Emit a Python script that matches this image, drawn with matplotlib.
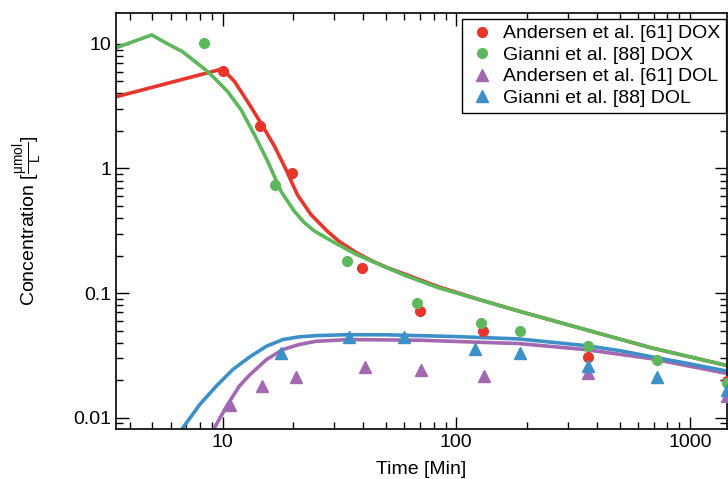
import matplotlib
matplotlib.use("Agg")
from matplotlib import pyplot as plt

plt.rcParams['font.family'] = ['Liberation Sans', 'DejaVu Sans']
plt.rcParams['mathtext.fontset'] = 'custom'
plt.rcParams['mathtext.rm'] = 'Liberation Sans'
plt.rcParams['mathtext.it'] = 'Liberation Sans'

# measured data (time in min, concentration in umol/L)
andersen_dox_t = [10, 14.5, 19.9, 39.5, 70, 130, 367, 1440]
andersen_dox_c = [6.07, 2.2, 0.92, 0.16, 0.072, 0.050, 0.0307, 0.0195]

gianni_dox_t = [8.3, 16.8, 34, 68, 128, 188, 367, 726, 1440]
gianni_dox_c = [10.2, 0.73, 0.18, 0.083, 0.057, 0.050, 0.0374, 0.029, 0.019]

andersen_dol_t = [10.8, 14.7, 20.6, 40.5, 70.6, 131.5, 367, 1440]
andersen_dol_c = [0.0127, 0.018, 0.0212, 0.0254, 0.024, 0.0215, 0.0229, 0.0148]

gianni_dol_t = [17.8, 34.8, 60, 120, 188, 367, 726, 1440]
gianni_dol_c = [0.033, 0.0445, 0.044, 0.0356, 0.033, 0.0258, 0.0211, 0.0168]

# model curves
red_model_t = [3.5, 10, 11.25, 12.8, 14.6, 16.7, 18.7, 20.9, 23.9, 28.1, 31.5,
               37.2, 43.8, 51.5, 60.7, 84.2, 133, 188, 355, 684, 1440]
red_model_c = [3.76, 6.3, 4.99, 3.44, 2.31, 1.50, 0.976, 0.615, 0.426, 0.313, 0.26,
               0.212, 0.18, 0.158, 0.141, 0.112, 0.0857, 0.071, 0.051, 0.0363, 0.0262]

green_model_t = [3.5, 4.98, 5.71, 6.73, 8.46, 9.24, 10.5, 12.0, 13.7, 15.6, 17.8, 20.3,
                 22.3, 24.7, 30, 37.2, 51.5, 60.7, 84.2, 133, 188, 355, 684, 1440]
green_model_c = [9.3, 11.8, 10.2, 8.68, 6.19, 5.31, 4.15, 2.96, 1.86, 1.14, 0.654, 0.452,
                 0.37, 0.315, 0.255, 0.205, 0.157, 0.138, 0.11, 0.0857, 0.071, 0.051,
                 0.0363, 0.0262]

purple_model_t = [9.24, 10.5, 11.8, 13.0, 15.4, 18.1, 21.3, 25.1, 34.8, 69.2, 185,
                  355, 684, 1440]
purple_model_c = [0.0083, 0.0127, 0.0179, 0.0218, 0.0292, 0.0352, 0.0386, 0.041,
                  0.0423, 0.0418, 0.0393, 0.0352, 0.0297, 0.0226]

blue_model_t = [6.77, 7.98, 9.4, 11.06, 13.0, 15.4, 18.1, 21.3, 25.1, 34.8, 50, 69.2,
                100, 185, 355, 500, 684, 1000, 1440]
blue_model_c = [0.0083, 0.0127, 0.0179, 0.0243, 0.0305, 0.0374, 0.0423, 0.0445, 0.0455,
                0.0463, 0.0462, 0.0455, 0.0447, 0.0428, 0.0379, 0.0345, 0.0308, 0.027,
                0.0236]

red = '#e8352b'
green = '#5cb85b'
purple = '#a468b3'
blue = '#3d8fc7'

fig = plt.figure(figsize=(7.28, 4.79), dpi=100)
ax = fig.add_axes([116/728, 1 - 429/479, (727 - 116)/728, (429 - 13)/479])

lw = 2.6
ax.plot(red_model_t, red_model_c, color=red, lw=lw, zorder=2)
ax.plot(green_model_t, green_model_c, color=green, lw=lw, zorder=2)
ax.plot(purple_model_t, purple_model_c, color=purple, lw=lw, zorder=2)
ax.plot(blue_model_t, blue_model_c, color=blue, lw=lw, zorder=2)

ax.plot(andersen_dox_t, andersen_dox_c, 'o', color=red, ms=7, ls='none',
        label='Andersen et al. [61] DOX', zorder=3)
ax.plot(gianni_dox_t, gianni_dox_c, 'o', color=green, ms=7, ls='none',
        label='Gianni et al. [88] DOX', zorder=3)
ax.plot(andersen_dol_t, andersen_dol_c, '^', color=purple, ms=8, ls='none',
        label='Andersen et al. [61] DOL', zorder=3)
ax.plot(gianni_dol_t, gianni_dol_c, '^', color=blue, ms=8, ls='none',
        label='Gianni et al. [88] DOL', zorder=3)

ax.set_xscale('log')
ax.set_yscale('log')
ax.set_xlim(3.5, 1440)
ax.set_ylim(0.0081, 17.7)

ax.set_xticks([10, 100, 1000], ['10', '100', '1000'])
ax.set_yticks([0.01, 0.1, 1, 10], ['0.01', '0.1', '1', '10'])
ax.tick_params(which='both', direction='in', top=True, right=True, labelsize=14)
ax.tick_params(which='major', length=9, width=1)
ax.tick_params(which='minor', length=5, width=1)
for s in ax.spines.values():
    s.set_linewidth(1.2)

ax.set_xlabel('Time [Min]', fontsize=14, labelpad=7)
ax.set_ylabel(r'Concentration [$\frac{\mathrm{\mu mol}}{\mathrm{L}}$]',
              fontsize=14, labelpad=20)

leg = ax.legend(loc='upper left', bbox_to_anchor=(462/728, 1 - 19/479),
                bbox_transform=fig.transFigure, fontsize=14, frameon=True,
                fancybox=False, edgecolor='black', framealpha=1,
                handletextpad=0.3, labelspacing=0.2, borderpad=0.3,
                handlelength=1.5, borderaxespad=0)
leg.get_frame().set_linewidth(1.0)

fig.savefig('out.png', dpi=100)
